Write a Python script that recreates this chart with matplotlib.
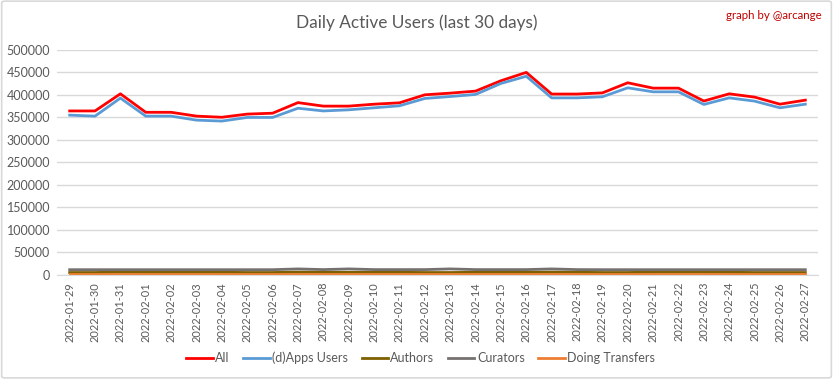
import matplotlib
matplotlib.use("Agg")
import matplotlib.pyplot as plt
from matplotlib.patches import FancyBboxPatch

dates = ["2022-01-29", "2022-01-30", "2022-01-31", "2022-02-01", "2022-02-02", "2022-02-03",
         "2022-02-04", "2022-02-05", "2022-02-06", "2022-02-07", "2022-02-08", "2022-02-09",
         "2022-02-10", "2022-02-11", "2022-02-12", "2022-02-13", "2022-02-14", "2022-02-15",
         "2022-02-16", "2022-02-17", "2022-02-18", "2022-02-19", "2022-02-20", "2022-02-21",
         "2022-02-22", "2022-02-23", "2022-02-24", "2022-02-25", "2022-02-26", "2022-02-27"]

all_users = [364000, 364000, 402000, 361000, 361000, 352500, 350000, 357000, 359000, 382500,
             374700, 374700, 379000, 382000, 399800, 403500, 408000, 431000, 449500, 401500,
             401500, 404000, 426500, 414600, 414600, 386000, 402000, 394700, 379000, 388000]
dapps_users = [354700, 352500, 392500, 352500, 352500, 343600, 341500, 349600, 349600, 370000,
               364000, 366500, 371000, 375400, 391700, 396000, 400600, 425000, 441000, 393000,
               393000, 395400, 415300, 406400, 406400, 378400, 393000, 385800, 371000, 379000]
authors = [5500, 5500, 6500, 6000, 6000, 6000, 6000, 5500, 5500, 6500,
           6000, 6000, 6000, 6000, 5500, 5500, 6000, 6000, 6000, 6500,
           6000, 5500, 5500, 6500, 6500, 6500, 6000, 5500, 5500, 5500]
curators = [11800, 11800, 11800, 11800, 11800, 11800, 11800, 11800, 11800, 13500,
            12000, 13500, 12000, 12000, 12000, 13500, 12000, 12000, 12000, 13500,
            12000, 11800, 11800, 11800, 11800, 11800, 11800, 11800, 11800, 11800]
transfers = [2500, 2500, 2500, 2500, 2500, 2500, 2500, 2500, 2500, 2500,
             2500, 2500, 2500, 2500, 2500, 2500, 2500, 2500, 2500, 2500,
             2500, 2500, 2500, 2500, 2500, 2500, 2500, 2500, 2500, 2500]

series_names = ["All", "(d)Apps Users", "Authors", "Curators", "Doing Transfers"]
series_colors = ["#FF0000", "#5B9BD5", "#7F6000", "#767171", "#ED7D31"]
series_values = [all_users, dapps_users, authors, curators, transfers]
y_ticks = [0, 50000, 100000, 150000, 200000, 250000, 300000, 350000, 400000, 450000, 500000]

plt.rcParams['font.family'] = ['Lato', 'DejaVu Sans']
fig = plt.figure(figsize=(8.33, 3.79), dpi=100)
fig.patch.set_facecolor("white")
border = FancyBboxPatch((0.002, 0.003), 0.996, 0.994, boxstyle="round,pad=0,rounding_size=0.004",
                        transform=fig.transFigure, facecolor="none", edgecolor="#D9D9D9", lw=1.2)
fig.patches.append(border)

ax = fig.add_axes([0.0684, 0.2744, 0.9136, 0.5946])
x = list(range(len(dates)))
lines = []
for name, col, vals in zip(series_names, series_colors, series_values):
    ln, = ax.plot(x, vals, color=col, lw=2.0, label=name, solid_joinstyle="round")
    lines.append(ln)

ax.set_xlim(-0.5, len(dates) - 0.5)
ax.set_ylim(0, 500000)
ax.set_yticks(y_ticks)
ax.set_yticklabels([str(v) for v in y_ticks])
ax.set_xticks(x)
ax.set_xticklabels(dates, rotation=90)
ax.grid(axis="y", color="#D9D9D9", lw=1)
ax.set_axisbelow(True)
for s in ["top", "right", "left"]:
    ax.spines[s].set_visible(False)
ax.spines["bottom"].set_color("#D9D9D9")
ax.tick_params(axis="both", length=0, colors="#595959")
ax.tick_params(axis="x", pad=5, labelsize=7.9)
ax.tick_params(axis="y", pad=5, labelsize=9)

fig.text(0.5, 0.94, "Daily Active Users (last 30 days)", ha="center", va="center",
         fontsize=12.4, color="#595959")
fig.text(0.987, 0.958, "graph by @arcange", ha="right", va="center", fontsize=8.3, color="#C00000")

fig.legend(handles=lines, labels=series_names, loc="center", bbox_to_anchor=(0.505, 0.055),
           ncol=5, frameon=False, fontsize=9, handlelength=2.1, handletextpad=0.2,
           columnspacing=1.1, labelcolor="#595959")

fig.savefig("out.png", dpi=100, facecolor="white")
